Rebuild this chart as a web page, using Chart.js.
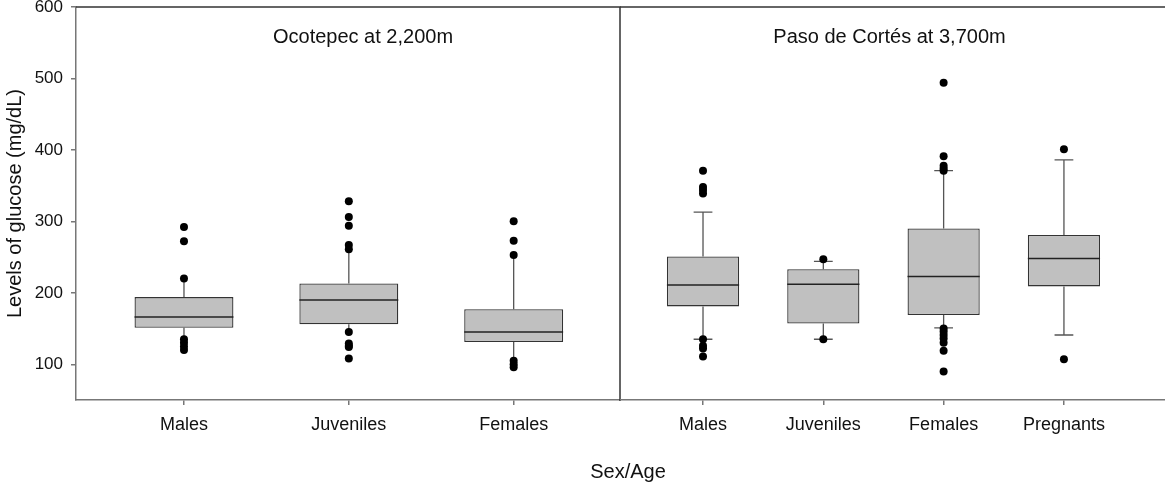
<!DOCTYPE html>
<html>
<head>
<meta charset="utf-8">
<script src="https://cdn.jsdelivr.net/npm/chart.js@4.4.1/dist/chart.umd.min.js"></script>
<style>
  html, body { margin: 0; padding: 0; background: #fff; }
  #wrap { position: relative; width: 1165px; height: 485px; }
  #leftBox { position: absolute; left: 0; top: 0; }
  #rightBox { position: absolute; left: 620px; top: 0; }
</style>
</head>
<body>
<div id="wrap">
  <div id="leftBox"><canvas id="leftChart" width="1165" height="485"></canvas></div>
  <div id="rightBox"><canvas id="rightChart" width="545" height="485"></canvas></div>
</div>
<script>
// shared y axis
const yTicks = [100, 200, 300, 400, 500, 600];

// Ocotepec at 2,200m
const lowLabels = ['Males', 'Juveniles', 'Females'];
const lowQ1 = [151, 156, 131];
const lowMedian = [166, 190, 145];
const lowQ3 = [194, 213, 177];
const lowWhiskerMin = [137, 146, 106];
const lowWhiskerMax = [217, 260, 252];
const lowOutliers = [
  [292, 272, 220, 135, 130, 125, 120],
  [328, 306, 294, 267, 261, 145, 129, 126, 124, 108],
  [300, 273, 253, 105, 100, 96]
];

// Paso de Cortés at 3,700m
const highLabels = ['Males', 'Juveniles', 'Females', 'Pregnants'];
const highQ1 = [181, 157, 169, 209];
const highMedian = [211, 212, 223, 248];
const highQ3 = [251, 233, 290, 281];
const highWhiskerMin = [135, 135, 151, 141];
const highWhiskerMax = [313, 244, 371, 386];
const highOutliers = [
  [371, 348, 344, 339, 135, 126, 122, 111],
  [247, 135],
  [494, 391, 378, 374, 371, 150, 146, 141, 136, 130, 119, 90],
  [401, 107]
];

Chart.defaults.font.family = "'Liberation Sans', Arial, sans-serif";
Chart.defaults.color = '#111';

function boxParts(stats) {
  return {
    id: 'boxParts',
    beforeDatasetsDraw(chart) {
      const { ctx } = chart;
      const xs = chart.scales.x, ys = chart.scales.y;
      const meta = chart.getDatasetMeta(0);
      ctx.save();
      ctx.strokeStyle = '#555';
      ctx.lineWidth = 1.3;
      stats.q1.forEach((q1, i) => {
        const cx = xs.getPixelForValue(i);
        const lo = ys.getPixelForValue(stats.min[i]);
        const hi = ys.getPixelForValue(stats.max[i]);
        ctx.beginPath();
        ctx.moveTo(cx, ys.getPixelForValue(q1));
        ctx.lineTo(cx, lo);
        ctx.moveTo(cx, ys.getPixelForValue(stats.q3[i]));
        ctx.lineTo(cx, hi);
        if (stats.caps) {
          const half = meta.data[i].width * 0.13;
          ctx.moveTo(cx - half, lo); ctx.lineTo(cx + half, lo);
          ctx.moveTo(cx - half, hi); ctx.lineTo(cx + half, hi);
        }
        ctx.stroke();
      });
      ctx.restore();
    },
    afterDatasetDraw(chart, args) {
      if (args.index !== 0) return;
      const { ctx } = chart;
      const ys = chart.scales.y;
      const meta = chart.getDatasetMeta(0);
      ctx.save();
      ctx.strokeStyle = '#222';
      ctx.lineWidth = 1.5;
      stats.median.forEach((m, i) => {
        const bar = meta.data[i];
        const py = ys.getPixelForValue(m);
        ctx.beginPath();
        ctx.moveTo(bar.x - bar.width / 2, py);
        ctx.lineTo(bar.x + bar.width / 2, py);
        ctx.stroke();
      });
      ctx.restore();
    },
    afterDraw(chart) {
      const { ctx, chartArea: a } = chart;
      ctx.save();
      ctx.strokeStyle = '#333';
      ctx.lineWidth = 1.5;
      ctx.beginPath();
      ctx.moveTo(a.left, a.top);
      ctx.lineTo(a.right, a.top);
      if (stats.rightEdge) {
        ctx.lineTo(a.right, a.bottom + 1);
      }
      ctx.stroke();
      ctx.fillStyle = '#111';
      ctx.textAlign = 'center';
      ctx.textBaseline = 'alphabetic';
      ctx.font = "20px 'Liberation Sans', Arial, sans-serif";
      ctx.fillText(stats.title, (a.left + a.right) / 2 + stats.titleDx, a.top + 36);
      if (stats.axisTitle) {
        ctx.fillText(stats.axisTitle, a.right + 8, 478);
      }
      ctx.restore();
    }
  };
}

function makeChart(id, labels, q1, median, q3, wMin, wMax, outliers, opts) {
  const boxes = labels.map((_, i) => ({ x: i, y: [q1[i], q3[i]] }));
  const dots = [];
  outliers.forEach((list, i) => list.forEach(v => dots.push({ x: i, y: v })));

  return new Chart(document.getElementById(id), {
    type: 'bar',
    data: {
      datasets: [
        {
          type: 'bar',
          data: boxes,
          backgroundColor: '#c0c0c0',
          borderColor: '#333',
          borderWidth: 1.3,
          borderSkipped: false,
          categoryPercentage: 1,
          barPercentage: 0.6
        },
        {
          type: 'scatter',
          data: dots,
          pointRadius: 4,
          pointBackgroundColor: '#000',
          pointBorderWidth: 0
        }
      ]
    },
    options: {
      responsive: false,
      animation: false,
      events: [],
      layout: { autoPadding: false, padding: opts.padding },
      plugins: { legend: { display: false }, tooltip: { enabled: false } },
      scales: {
        x: {
          type: 'linear',
          offset: false,
          min: opts.xMin,
          max: opts.xMax,
          afterBuildTicks: s => { s.ticks = labels.map((_, i) => ({ value: i })); },
          afterFit: s => { s.height = 85; s.paddingLeft = 0; s.paddingRight = 0; },
          ticks: {
            callback: v => labels[v],
            font: { size: 18 },
            padding: 9,
            maxRotation: 0,
            autoSkip: false
          },
          grid: { offset: false, drawOnChartArea: false, tickLength: 5, color: '#777', lineWidth: 1.5 },
          border: { color: '#777', width: 1.5 }
        },
        y: {
          min: 50,
          max: 600,
          afterBuildTicks: s => { s.ticks = yTicks.map(v => ({ value: v })); },
          afterFit: s => {
            s.width = opts.showY ? 76 : 0;
            s.paddingTop = 0;
            s.paddingBottom = 0;
          },
          ticks: { display: opts.showY, font: { size: 17 }, padding: 8 },
          grid: { display: opts.showY, drawOnChartArea: false, tickLength: 5, color: '#777', lineWidth: 1.5 },
          border: { display: opts.showY, color: '#777', width: 1.5 },
          title: {
            display: opts.showY,
            text: 'Levels of glucose (mg/dL)',
            font: { size: 20 },
            padding: { top: 3 }
          }
        }
      }
    },
    plugins: [boxParts({
      q1, median, q3, min: wMin, max: wMax,
      caps: opts.caps, rightEdge: opts.rightEdge,
      title: opts.title, titleDx: opts.titleDx, axisTitle: opts.axisTitle
    })]
  });
}

makeChart('leftChart', lowLabels, lowQ1, lowMedian, lowQ3, lowWhiskerMin, lowWhiskerMax, lowOutliers, {
  padding: { top: 7, left: 0, right: 545, bottom: 0 },
  xMin: -0.655, xMax: 2.645,
  showY: true, caps: false, rightEdge: true,
  title: 'Ocotepec at 2,200m', titleDx: 15,
  axisTitle: 'Sex/Age'
});

makeChart('rightChart', highLabels, highQ1, highMedian, highQ3, highWhiskerMin, highWhiskerMax, highOutliers, {
  padding: { top: 7, left: 0, right: 0, bottom: 0 },
  xMin: -0.69, xMax: 3.84,
  showY: false, caps: true, rightEdge: false,
  title: 'Paso de Cortés at 3,700m', titleDx: -3,
  axisTitle: ''
});
</script>
</body>
</html>
